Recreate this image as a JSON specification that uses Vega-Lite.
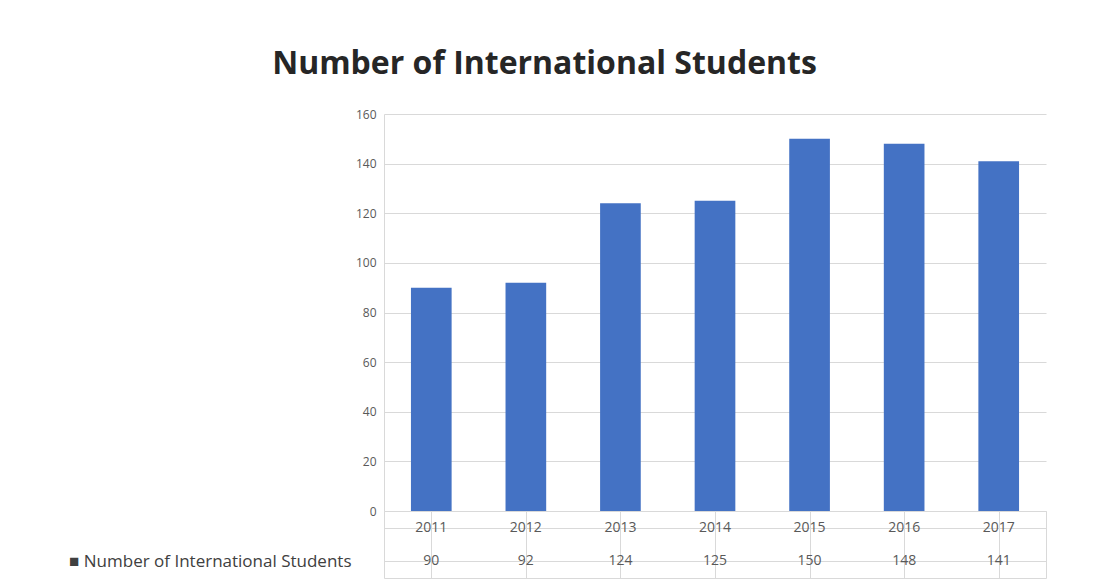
{
  "$schema": "https://vega.github.io/schema/vega-lite/v6.json",
  "background": "white",
  "padding": {"left": 58, "top": 48, "right": 43, "bottom": 9},
  "title": {"text": "Number of International Students", "fontSize": 32, "font": "Open Sans", "fontWeight": "bold", "color": "#262626", "anchor": "middle", "offset": 27, "dx": -8},
  "data": {"values": [
    {"year": "2011", "students": 90},
    {"year": "2012", "students": 92},
    {"year": "2013", "students": 124},
    {"year": "2014", "students": 125},
    {"year": "2015", "students": 150},
    {"year": "2016", "students": 148},
    {"year": "2017", "students": 141}
  ]},
  "bounds": "flush",
  "spacing": 0,
  "vconcat": [
    {
      "width": 662,
      "height": 397,
      "view": {"stroke": null},
      "mark": {"type": "bar", "color": "#4472C4"},
      "encoding": {
        "x": {"field": "year", "type": "nominal", "scale": {"paddingInner": 0.57, "paddingOuter": 0.285}, "axis": null},
        "y": {"field": "students", "type": "quantitative", "scale": {"domain": [0, 160]},
          "axis": {"values": [0, 20, 40, 60, 80, 100, 120, 140, 160], "title": null, "grid": true, "gridColor": "#D9D9D9", "domainColor": "#D9D9D9", "ticks": false, "labelPadding": 8, "labelFontSize": 12, "labelColor": "#595959", "minExtent": 325, "maxExtent": 325}}
      }
    },
    {
      "width": 662,
      "height": 67,
      "view": {"stroke": "#D9D9D9"},
      "transform": [{"fold": ["year", "students"], "as": ["row", "cell"]}],
      "mark": {"type": "text", "fontSize": 14, "color": "#595959", "font": "Open Sans"},
      "encoding": {
        "x": {"field": "year", "type": "nominal", "scale": {"paddingInner": 0, "paddingOuter": 0},
          "axis": {"grid": true, "bandPosition": 0, "gridColor": "#D9D9D9", "labels": false, "ticks": false, "domain": false, "title": null}},
        "y": {"field": "row", "type": "nominal", "sort": ["year", "students"], "scale": {"paddingInner": 0, "paddingOuter": 0},
          "axis": {"grid": true, "bandPosition": 0, "gridColor": "#D9D9D9", "ticks": false, "domain": false, "title": null, "labelExpr": "datum.value == 'students' ? '■ Number of International Students' : ''", "labelPadding": 33, "labelLimit": 400, "labelFontSize": 17, "labelColor": "#404040", "minExtent": 325, "maxExtent": 325}},
        "text": {"field": "cell"}
      }
    }
  ],
  "config": {"axis": {"labelFont": "Open Sans"}}
}
